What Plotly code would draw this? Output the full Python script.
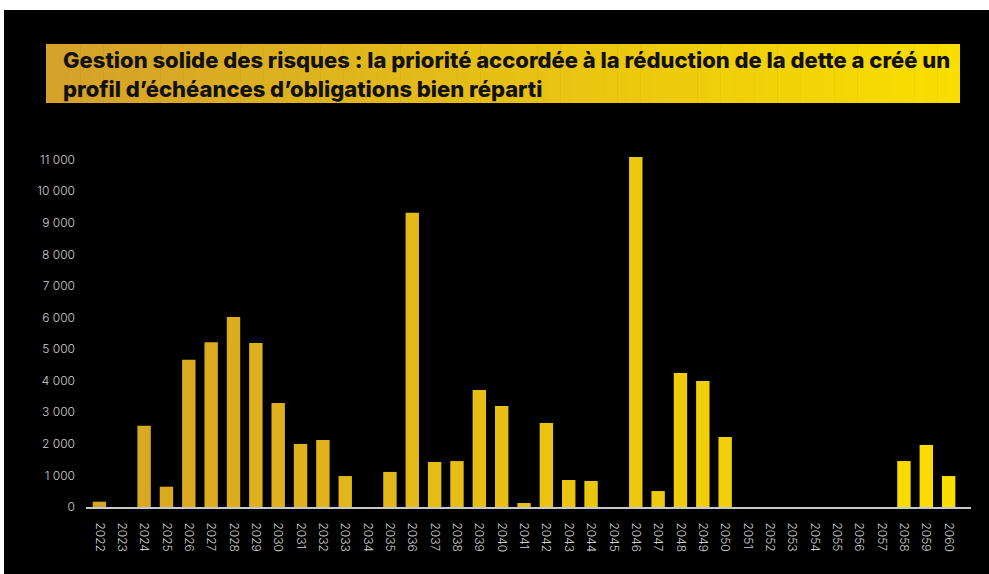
import plotly.graph_objects as go

years = [str(y) for y in range(2022, 2061)]
values = [168, 0, 2575, 643, 4665, 5220, 6015, 5190, 3290, 1995,
          2120, 980, 0, 1110, 9320, 1425, 1455, 3705, 3200, 125,
          2660, 855, 825, 0, 11083, 505, 4245, 3990, 2215, 0,
          0, 0, 0, 0, 0, 0, 1455, 1965, 980]
y_ticks = list(range(0, 11001, 1000))
y_tick_text = ["{:,}".format(v).replace(",", " ") for v in y_ticks]
title_text = ("Gestion solide des risques : la priorité accordée à la réduction de la dette a créé un<br>"
              "profil d’échéances d’obligations bien réparti")

W, H = 989, 574
L, R = 86, 971
T, B = 140, 507


def px_x(p):
    return (p - L) / (R - L)


def px_y(p):
    return (B - p) / (B - T)


def lerp(c1, c2, t):
    return "rgb({},{},{})".format(*[round(a + (b - a) * t) for a, b in zip(c1, c2)])


left_col = (214, 165, 36)
right_col = (250, 222, 0)
n = len(years)
bar_colors = [lerp(left_col, right_col, i / (n - 1)) for i in range(n)]

fig = go.Figure()
fig.add_trace(go.Bar(x=list(range(n)), y=values, marker=dict(color=bar_colors, line=dict(width=0)),
                     width=0.6, hoverinfo="x+y"))

shapes = []
# black card with thin white border on top/left
shapes.append(dict(type="rect", xref="paper", yref="paper", layer="below",
                   x0=px_x(4), x1=px_x(W + 5), y0=px_y(H + 5), y1=px_y(10),
                   fillcolor="black", line=dict(width=0)))
# gradient banner
bx0, bx1, by0, by1 = 46, 960, 44, 103
steps = 80
for i in range(steps):
    a = bx0 + (bx1 - bx0) * i / steps
    b = bx0 + (bx1 - bx0) * (i + 1) / steps + 0.6
    shapes.append(dict(type="rect", xref="paper", yref="paper", layer="below",
                       x0=px_x(a), x1=px_x(min(b, bx1)), y0=px_y(by1), y1=px_y(by0),
                       fillcolor=lerp((212, 161, 42), (249, 222, 0), i / (steps - 1)),
                       line=dict(width=0)))

fig.update_layout(
    width=W, height=H,
    margin=dict(l=L, r=W - R, t=T, b=H - B, pad=0),
    paper_bgcolor="white", plot_bgcolor="rgba(0,0,0,0)",
    showlegend=False, shapes=shapes,
    annotations=[dict(text=title_text, xref="paper", yref="paper",
                      x=px_x(61), y=px_y(74), xanchor="left", yanchor="middle",
                      align="left", showarrow=False,
                      font=dict(family="Inter", size=22, color="#111111", weight=800))],
    bargap=0.4,
)
fig.update_xaxes(range=[-0.6, 39.0], tickmode="array", tickvals=list(range(n)), ticktext=years,
                 tickangle=90, showgrid=False, zeroline=False, showline=True,
                 linecolor="#c8c8c8", linewidth=2, ticks="", ticklabelstandoff=11,
                 tickfont=dict(family="Inter", size=12, color="#d0d0d0", weight=300))
fig.update_yaxes(range=[0, (B - T) / 31.58 * 1000], tickmode="array", tickvals=y_ticks,
                 ticktext=y_tick_text, showgrid=False, zeroline=False, showline=False,
                 ticks="", ticklabelstandoff=10,
                 tickfont=dict(family="Inter", size=12, color="#d0d0d0", weight=300))

fig.write_html("out.html", config={"displayModeBar": False},
               post_script="document.body.style.margin='0px';")
